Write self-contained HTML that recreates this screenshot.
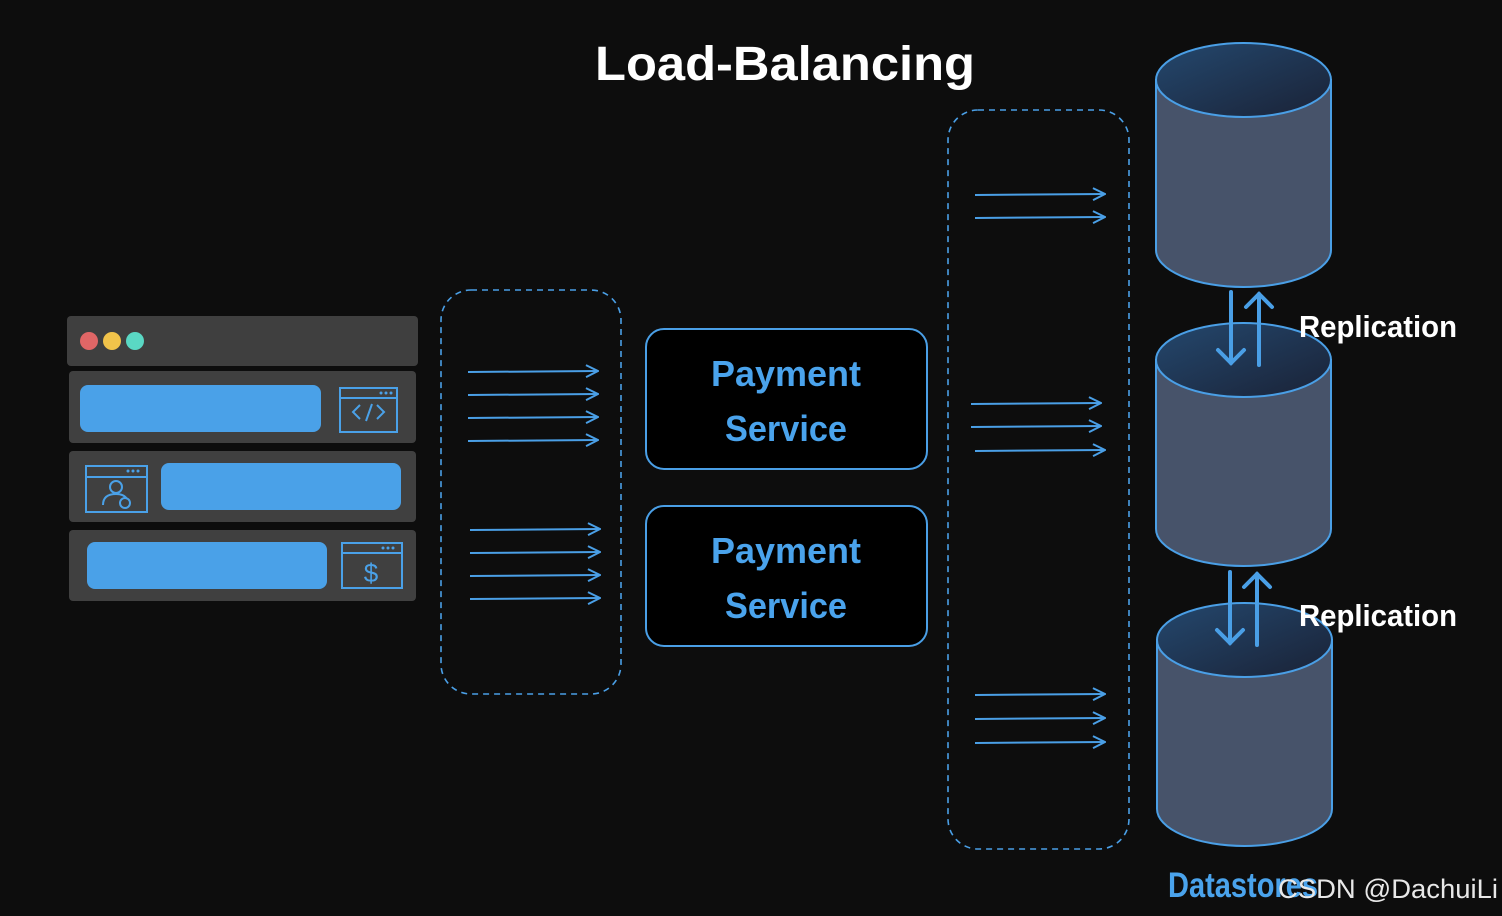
<!DOCTYPE html>
<html><head><style>
html,body{margin:0;padding:0;background:#0d0d0d;}
svg{display:block}
.t{font-family:"Liberation Sans",sans-serif;font-weight:bold}
</style></head><body>
<svg width="1502" height="916" viewBox="0 0 1502 916" xmlns="http://www.w3.org/2000/svg">
<defs>
<linearGradient id="tg" x1="0" y1="0" x2="1" y2="1">
<stop offset="0" stop-color="#24486e"/><stop offset="1" stop-color="#1a2236"/></linearGradient>
<marker id="ah" viewBox="0 0 14 14" refX="13" refY="7" markerWidth="14" markerHeight="14" markerUnits="userSpaceOnUse" orient="auto"><path d="M1,1 L13,7 L1,13" fill="none" stroke="#4a9fe6" stroke-width="2"/></marker>
</defs>
<rect width="1502" height="916" fill="#0d0d0d"/>
<text x="785" y="80" text-anchor="middle" class="t" font-size="48" fill="#fff" textLength="380" lengthAdjust="spacingAndGlyphs">Load-Balancing</text>

<!-- browser -->
<rect x="67" y="316" width="351" height="50" rx="4" fill="#3f3f3f"/>
<circle cx="89" cy="341" r="9" fill="#e06666"/>
<circle cx="112" cy="341" r="9" fill="#f1c34a"/>
<circle cx="135" cy="341" r="9" fill="#5ad8c4"/>
<rect x="69" y="371" width="347" height="72" rx="4" fill="#404040"/>
<rect x="69" y="451" width="347" height="71" rx="4" fill="#404040"/>
<rect x="69" y="530" width="347" height="71" rx="4" fill="#404040"/>
<rect x="80" y="385" width="241" height="47" rx="8" fill="#4aa1e8"/>
<rect x="161" y="463" width="240" height="47" rx="8" fill="#4aa1e8"/>
<rect x="87" y="542" width="240" height="47" rx="8" fill="#4aa1e8"/>
<g fill="none" stroke="#4aa1e8" stroke-width="2">
<rect x="340" y="388" width="57" height="44"/><line x1="340" y1="398" x2="397" y2="398"/>
<path d="M360,405 l-7,7 l7,7 M377,405 l7,7 l-7,7 M372,404 l-6,17"/>
<rect x="86" y="466" width="61" height="46"/><line x1="86" y1="477" x2="147" y2="477"/>
<circle cx="116" cy="487" r="6"/><path d="M103,505 q0,-11 13,-11 q8,0 11,5"/><circle cx="125" cy="503" r="5"/>
<rect x="342" y="543" width="60" height="45"/><line x1="342" y1="553" x2="402" y2="553"/>
</g>
<g fill="#4aa1e8"><circle cx="381" cy="393" r="1.5"/><circle cx="386" cy="393" r="1.5"/><circle cx="391" cy="393" r="1.5"/>
<circle cx="128" cy="471" r="1.5"/><circle cx="133" cy="471" r="1.5"/><circle cx="138" cy="471" r="1.5"/>
<circle cx="383" cy="548" r="1.5"/><circle cx="388" cy="548" r="1.5"/><circle cx="393" cy="548" r="1.5"/></g>
<text x="371" y="582" text-anchor="middle" font-family="Liberation Sans,sans-serif" font-size="26" fill="#4aa1e8">$</text>

<!-- dashed boxes -->
<rect x="441" y="290" width="180" height="404" rx="30" fill="none" stroke="#4a9fe6" stroke-width="1.6" stroke-dasharray="6,5"/>
<rect x="948" y="110" width="181" height="739" rx="30" fill="none" stroke="#4a9fe6" stroke-width="1.6" stroke-dasharray="6,5"/>

<g stroke="#4a9fe6" stroke-width="2" marker-end="url(#ah)">
<line x1="468" y1="372" x2="598" y2="371"/><line x1="468" y1="395" x2="598" y2="394"/>
<line x1="468" y1="418" x2="598" y2="417"/><line x1="468" y1="441" x2="598" y2="440"/>
<line x1="470" y1="530" x2="600" y2="529"/><line x1="470" y1="553" x2="600" y2="552"/>
<line x1="470" y1="576" x2="600" y2="575"/><line x1="470" y1="599" x2="600" y2="598"/>
<line x1="975" y1="195" x2="1105" y2="194"/><line x1="975" y1="218" x2="1105" y2="217"/>
<line x1="971" y1="404" x2="1101" y2="403"/><line x1="971" y1="427" x2="1101" y2="426"/>
<line x1="975" y1="451" x2="1105" y2="450"/>
<line x1="975" y1="695" x2="1105" y2="694"/><line x1="975" y1="719" x2="1105" y2="718"/>
<line x1="975" y1="743" x2="1105" y2="742"/>
</g>

<!-- payment boxes -->
<rect x="646" y="329" width="281" height="140" rx="18" fill="#000" stroke="#4a9fe6" stroke-width="2"/>
<rect x="646" y="506" width="281" height="140" rx="18" fill="#000" stroke="#4a9fe6" stroke-width="2"/>
<g class="t" font-size="36" fill="#4aa3ec" text-anchor="middle">
<text x="786" y="386" textLength="150" lengthAdjust="spacingAndGlyphs">Payment</text>
<text x="786" y="441" textLength="122" lengthAdjust="spacingAndGlyphs">Service</text>
<text x="786" y="563" textLength="150" lengthAdjust="spacingAndGlyphs">Payment</text>
<text x="786" y="618" textLength="122" lengthAdjust="spacingAndGlyphs">Service</text>
</g>

<!-- cylinders -->
<g stroke="#4a9fe6" stroke-width="2">
<path d="M1156,80 V250 A87.5,37 0 0 0 1331,250 V80 Z" fill="#47536a"/>
<ellipse cx="1243.5" cy="80" rx="87.5" ry="37" fill="url(#tg)"/>
<path d="M1156,360 V529 A87.5,37 0 0 0 1331,529 V360 Z" fill="#47536a"/>
<ellipse cx="1243.5" cy="360" rx="87.5" ry="37" fill="url(#tg)"/>
<path d="M1157,640 V809 A87.5,37 0 0 0 1332,809 V640 Z" fill="#47536a"/>
<ellipse cx="1244.5" cy="640" rx="87.5" ry="37" fill="url(#tg)"/>
</g>
<g stroke="#4a9fe6" stroke-width="4" fill="none" stroke-linecap="round">
<line x1="1231" y1="292" x2="1231" y2="363"/><path d="M1218,350 l13,13 l13,-13"/>
<line x1="1259" y1="294" x2="1259" y2="365"/><path d="M1246,307 l13,-13 l13,13"/>
<line x1="1230" y1="572" x2="1230" y2="643"/><path d="M1217,630 l13,13 l13,-13"/>
<line x1="1257" y1="574" x2="1257" y2="645"/><path d="M1244,587 l13,-13 l13,13"/>
</g>
<g class="t" font-size="31" fill="#fff">
<text x="1299" y="337" textLength="158" lengthAdjust="spacingAndGlyphs">Replication</text>
<text x="1299" y="626" textLength="158" lengthAdjust="spacingAndGlyphs">Replication</text>
</g>
<text x="1168" y="897" class="t" font-size="35" fill="#4aa3ec" textLength="150" lengthAdjust="spacingAndGlyphs">Datastores</text>
<text x="1278" y="898" font-family="Liberation Sans,sans-serif" font-size="27" fill="#e8e8e8" textLength="220" lengthAdjust="spacingAndGlyphs">CSDN @DachuiLi</text>
</svg>
</body></html>
